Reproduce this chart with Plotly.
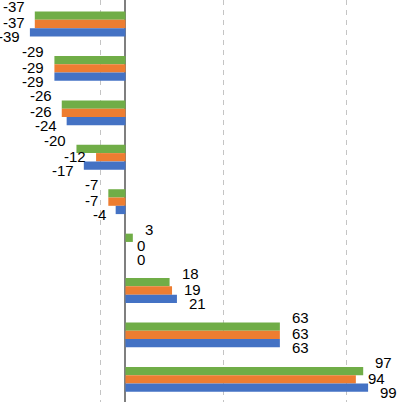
import plotly.graph_objects as go

categories = ["A", "B", "C", "D", "E", "F", "G", "H", "I"]
series_green = [-37, -29, -26, -20, -7, 3, 18, 63, 97]
series_orange = [-37, -29, -26, -12, -7, 0, 19, 63, 94]
series_blue = [-39, -29, -24, -17, -4, 0, 21, 63, 99]

series = [
    ("Series 3", series_green, "#70AD47", 17),
    ("Series 2", series_orange, "#ED7D31", 1),
    ("Series 1", series_blue, "#4472C4", -13),
]

fig = go.Figure()
annotations = []
for name, vals, color, ysh in series:
    fig.add_trace(go.Bar(
        y=categories, x=vals, name=name, orientation="h",
        marker=dict(color=color, line=dict(width=0)),
    ))
    for c, v in zip(categories, vals):
        annotations.append(dict(
            x=v, y=c, xref="x", yref="y", text=str(v), showarrow=False,
            xanchor="right" if v < 0 else "left",
            xshift=-8 if v < 0 else 10, yshift=ysh,
            font=dict(family="Liberation Sans", size=15, color="#000000"),
        ))

fig.update_layout(
    barmode="group", bargap=0.44, bargroupgap=0,
    width=398, height=402, margin=dict(l=0, r=0, t=0, b=0),
    paper_bgcolor="white", plot_bgcolor="white", showlegend=False,
    annotations=annotations,
)
fig.update_xaxes(
    range=[-51.2, 111.2], tick0=-10, dtick=50, showticklabels=False,
    showgrid=True, gridcolor="#C4C4C4", griddash="5px,5px", gridwidth=1,
    zeroline=True, zerolinecolor="#7F7F7F", zerolinewidth=1.5,
)
fig.update_yaxes(
    type="category", categoryorder="array", categoryarray=categories,
    range=[8.51, -0.54], showticklabels=False, showgrid=False, zeroline=False,
)
fig.write_html("out.html", config={"displayModeBar": False},
               post_script="document.body.style.margin='0';")
